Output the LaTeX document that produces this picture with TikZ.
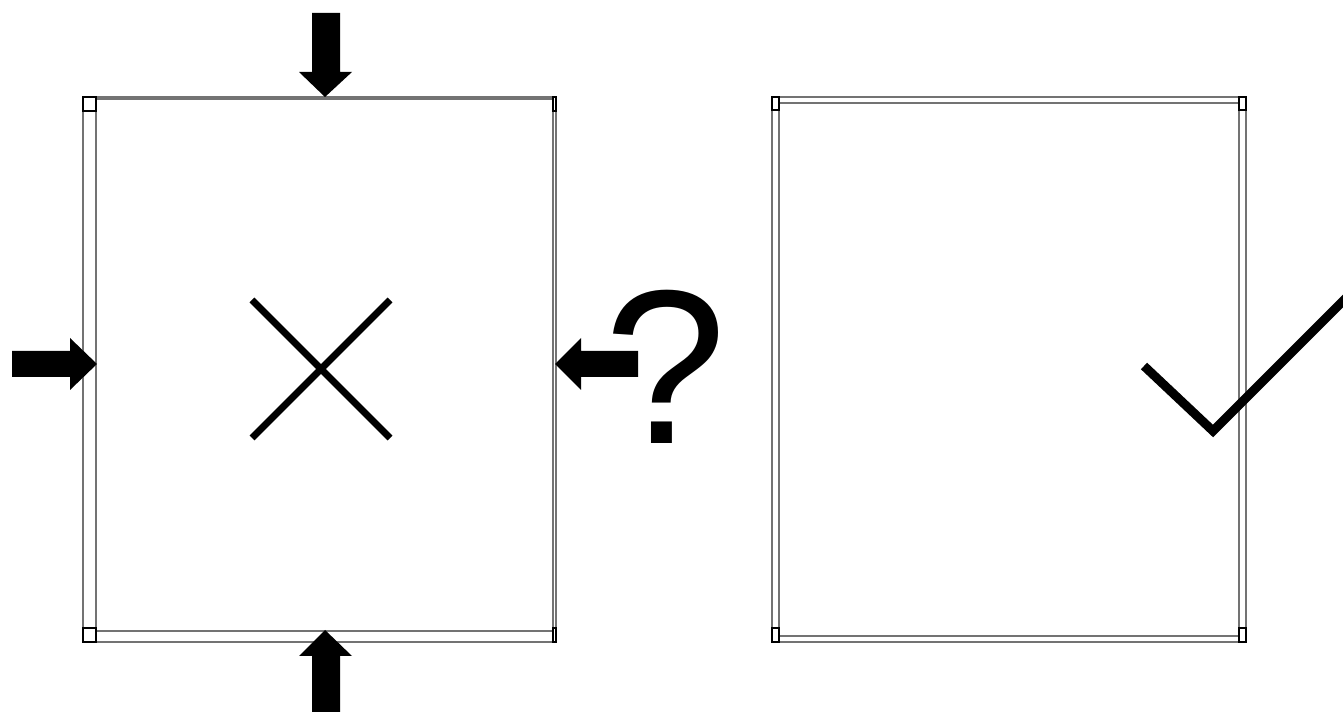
\documentclass[tikz,border=0pt]{standalone}
\usepackage{fontspec}
\setmainfont{Liberation Sans}

\begin{document}
\begin{tikzpicture}[x=0.02cm, y=-0.02cm,
  bar/.style={draw=black!55, line width=0.6pt},
  corner/.style={draw=black, line width=0.6pt},
  blockarrow/.style={fill=black},
  stroke/.style={draw=black, line cap=butt, miter limit=10}]

\useasboundingbox (0,0) rectangle (1343,712);

% left frame (squeezed)
\draw[bar] (96,97) rectangle (553,99);
\draw[bar] (96,631) rectangle (553,642);
\draw[bar] (83,111) rectangle (96,628);
\draw[bar] (553,111) rectangle (556,628);
\draw[corner] (83,97) rectangle (96,111);
\draw[corner] (553,97) rectangle (556,111);
\draw[corner] (83,628) rectangle (96,642);
\draw[corner] (553,628) rectangle (556,642);

% right frame
\draw[bar] (779,97) rectangle (1239,103);
\draw[bar] (779,636) rectangle (1239,642);
\draw[bar] (772,110) rectangle (779,628);
\draw[bar] (1239,110) rectangle (1246,628);
\draw[corner] (772,97) rectangle (779,110);
\draw[corner] (1239,97) rectangle (1246,110);
\draw[corner] (772,628) rectangle (779,642);
\draw[corner] (1239,628) rectangle (1246,642);

% pushing arrows
\fill[blockarrow] (312,13) -- (340,13) -- (340,72) -- (352,72) -- (325,97) -- (299,72) -- (312,72) -- cycle;
\fill[blockarrow] (312,715) -- (340,715) -- (340,656) -- (352,656) -- (325,630) -- (299,656) -- (312,656) -- cycle;
\fill[blockarrow] (12,351) -- (70,351) -- (70,338) -- (97,364) -- (70,390) -- (70,377) -- (12,377) -- cycle;
\fill[blockarrow] (638,351) -- (581,351) -- (581,338) -- (555,364) -- (581,390) -- (581,377) -- (638,377) -- cycle;

% cross
\draw[stroke, line width=0.14cm] (252,300) -- (390,438);
\draw[stroke, line width=0.14cm] (390,300) -- (252,438);

\node[inner sep=0pt, anchor=base, font=\fontsize{125}{125}\selectfont] (qmark) at (666,444) {?};

% tick
\begin{scope}
\clip (0,0) rectangle (1343,712);
\draw[stroke, line width=0.18cm] (1144,366) -- (1213,431) -- (1360,284);
\end{scope}

\end{tikzpicture}
\end{document}
